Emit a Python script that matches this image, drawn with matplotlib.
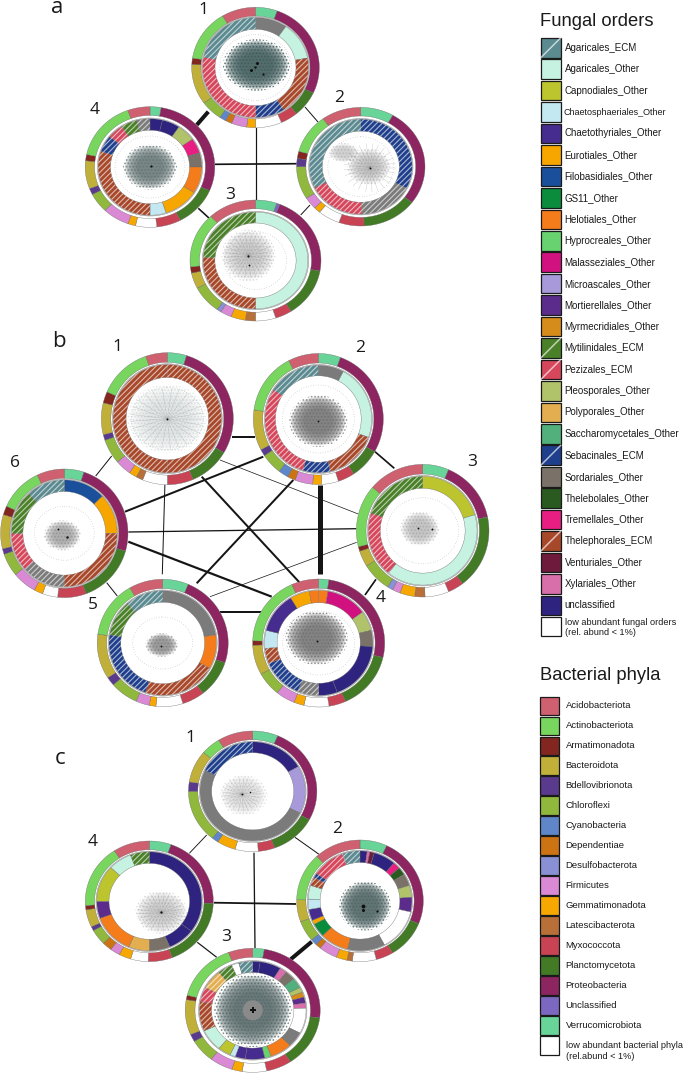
import numpy as np
import matplotlib
matplotlib.use('Agg')
import matplotlib.pyplot as plt
from matplotlib.patches import Polygon, Ellipse, Rectangle

# ---------- legend content ----------
FUNGAL_LABELS = ['Agaricales_ECM', 'Agaricales_Other', 'Capnodiales_Other', 'Chaetosphaeriales_Other',
                 'Chaetothyriales_Other', 'Eurotiales_Other', 'Filobasidiales_Other', 'GS11_Other',
                 'Helotiales_Other', 'Hyprocreales_Other', 'Malasseziales_Other', 'Microascales_Other',
                 'Mortierellales_Other', 'Myrmecridiales_Other', 'Mytilinidales_ECM', 'Pezizales_ECM',
                 'Pleosporales_Other', 'Polyporales_Other', 'Saccharomycetales_Other', 'Sebacinales_ECM',
                 'Sordariales_Other', 'Thelebolales_Other', 'Tremellales_Other', 'Thelephorales_ECM',
                 'Venturiales_Other', 'Xylariales_Other', 'unclassified']
FUNGAL_CODES = ['AgE', 'AgO', 'Cap', 'ChS', 'Chy', 'Eur', 'Fil', 'GS1', 'Hel', 'Hyp', 'Mal', 'Mic', 'Mor', 'Myr',
                'MyE', 'PeE', 'Ple', 'Pol', 'Sac', 'SeE', 'Sor', 'Thb', 'Tre', 'ThE', 'Ven', 'Xyl', 'Ucl']
FUNGAL_COLORS = ['#5b8a90', '#c6f2e1', '#bcc52d', '#c4e8f2', '#472c90', '#f7a600', '#1a4f9c', '#0b8c3c',
                 '#f57c1b', '#68d170', '#d0117f', '#a89ada', '#5c2c8c', '#d68c1a', '#4a8028', '#d6475c',
                 '#b0c26a', '#e3ae50', '#52b07c', '#1f3f8c', '#7a7268', '#2a5a20', '#e81e82', '#a8482a',
                 '#6e1a3c', '#d86eaa', '#2e2480']
BACTERIAL_LABELS = ['Acidobacteriota', 'Actinobacteriota', 'Armatimonadota', 'Bacteroidota', 'Bdellovibrionota',
                    'Chloroflexi', 'Cyanobacteria', 'Dependentiae', 'Desulfobacterota', 'Firmicutes',
                    'Gemmatimonadota', 'Latescibacterota', 'Myxococcota', 'Planctomycetota', 'Proteobacteria',
                    'Unclassified', 'Verrucomicrobiota']
BACTERIAL_COLORS = ['#cf6070', '#78d65e', '#82261f', '#c0b03a', '#5a3a8c', '#8fb83c', '#5f86c8', '#cc7414',
                    '#8a90d4', '#da8ad4', '#f7a800', '#b87038', '#c84454', '#437a26', '#8c2560', '#7c68c0',
                    '#68d498']
# clockwise from 12 o'clock: index into BACTERIAL_LABELS, -1 = low abundant (white)
OUTER_ORDER = [16, 15, 14, 13, 12, -1, 11, 10, 9, 8, 7, 6, 5, 4, 3, 2, 1, 0]

# ---------- outer ring shares (deg of circle, order of OUTER_ORDER) ----------
A1_OUTER = [20, 0, 95, 25, 16, 24, 0, 8, 14, 0, 6, 6, 20, 0, 39, 6, 50, 31]
A2_OUTER = [30, 0, 97, 50, 23, 20, 0, 6, 12, 0, 0, 0, 32, 8, 0, 7, 39, 36]
A3_OUTER = [19, 3, 78, 47, 15, 18, 9, 13, 10, 4, 0, 0, 27, 0, 15, 6, 53, 43]
A4_OUTER = [10, 0, 103, 39, 22, 19, 0, 7, 24, 0, 0, 0, 19, 6, 27, 6, 58, 20]
B1_OUTER = [17, 0, 104, 36, 23, 22, 6, 7, 14, 0, 0, 0, 22, 5, 28, 10, 47, 19]
B2_OUTER = [20, 0, 100, 27, 15, 15, 0, 8, 16, 0, 7, 9, 19, 6, 36, 0, 55, 27]
B3_OUTER = [23, 0, 55, 65, 14, 21, 9, 13, 7, 5, 0, 0, 26, 0, 14, 4, 55, 49]
B4_OUTER = [9, 0, 94, 53, 15, 22, 0, 9, 17, 0, 0, 0, 22, 0, 27, 4, 64, 24]
B5_OUTER = [23, 0, 85, 34, 20, 24, 0, 6, 12, 0, 0, 0, 25, 8, 41, 0, 52, 30]
B6_OUTER = [18, 0, 88, 54, 26, 14, 0, 8, 22, 0, 0, 0, 21, 5, 31, 8, 40, 25]
C1_OUTER = [23, 0, 95, 42, 15, 21, 0, 17, 0, 0, 0, 6, 51, 9, 31, 0, 18, 32]
C2_OUTER = [25, 0, 87, 37, 16, 22, 5, 10, 17, 0, 5, 6, 20, 0, 21, 0, 46, 43]
C3_OUTER = [10, 0, 87, 49, 22, 21, 0, 9, 20, 0, 0, 0, 22, 7, 33, 4, 55, 21]
C4_OUTER = [20, 0, 72, 67, 22, 16, 0, 11, 9, 0, 9, 0, 15, 4, 17, 4, 61, 33]

# ---------- inner ring taxa and shares (clockwise from 12 o'clock) ----------
A1_INNER_TAXA = ['Gry', 'AgO', 'ThE', 'SeE', 'PeE', 'AgE']
A1_INNER = [35, 44, 69, 32, 102, 78]
A2_INNER_TAXA = ['SeE', 'GrE', 'PeE', 'AgE']
A2_INNER = [117, 62, 65, 116]
A3_INNER_TAXA = ['AgO', 'ThE', 'MyE']
A3_INNER = [180, 94, 86]
A4_INNER_TAXA = ['Ucl', 'Ucl', 'Ple', 'Tre', 'Sor', 'Hel', 'Eur', 'ChS', 'ThE', 'SeE', 'PeE', 'MyE', 'GrE']
A4_INNER = [14, 20, 21, 18, 17, 32, 40, 18, 109, 20, 18, 18, 15]
B1_INNER_TAXA = ['ThE', 'ThE']
B1_INNER = [180, 180]
B2_INNER_TAXA = ['Gry', 'AgO', 'ThE', 'SeE', 'PeE', 'AgE']
B2_INNER = [28, 82, 57, 30, 106, 57]
B3_INNER_TAXA = ['Cap', 'AgO', 'PeE', 'MyE']
B3_INNER = [73, 146, 70, 71]
B4_INNER_TAXA = ['Hel', 'Mal', 'Ple', 'Sor', 'Ucl', 'Ucl', 'GrE', 'SeE', 'ThE', 'ChS', 'Chy', 'Eur', 'Hel']
B4_INNER = [10, 44, 22, 18, 66, 20, 23, 44, 17, 20, 45, 21, 10]
B5_INNER_TAXA = ['Gry', 'Hel', 'ThE', 'SeE', 'MyE', 'AgE']
B5_INNER = [81, 38, 80, 80, 40, 41]
B6_INNER_TAXA = ['Fil', 'Eur', 'ThE', 'GrE', 'PeE', 'MyE', 'AgE']
B6_INNER = [46, 44, 90, 48, 42, 48, 42]
C1_INNER_TAXA = ['Ucl', 'Mic', 'Gry', 'SeE']
C1_INNER = [60, 56, 179, 65]
C2_INNER_TAXA = ['Ucl', 'Xyl', 'Ven', 'Ucl', 'Tre', 'Thb', 'Sor', 'Ple', 'Mor', 'Low', 'Gry', 'Hel', 'GS1', 'Eur',
                 'Chy', 'ChS', 'AgO', 'ThE', 'SeE', 'PeE', 'Low', 'AgE']
C2_INNER = [8, 3, 5, 25, 8, 9, 14, 14, 17, 49, 42, 32, 16, 5, 13, 12, 16, 10, 5, 37, 1, 19]
C3_INNER_TAXA = ['Ucl', 'Ucl', 'Xyl', 'Sor', 'Sac', 'Ple', 'Myr', 'Mor', 'Xyl', 'Low', 'Gry', 'Hel', 'Hyp', 'Chy',
                 'Chy', 'ChS', 'Cap', 'AgO', 'ThE', 'PeE', 'PoE', 'MyE', 'Low', 'AgE']
C3_INNER = [8, 23, 8, 11, 12, 6, 6, 7, 6, 30, 18, 24, 7, 21, 11, 6, 14, 26, 35, 17, 23, 16, 8, 15]
C4_INNER_TAXA = ['Ucl', 'Ucl', 'Sor', 'Pol', 'Hel', 'Mor', 'Cap', 'AgO', 'MyE']
C4_INNER = [127, 30, 23, 23, 47, 20, 43, 26, 21]

# ---------- node layout: name, centre, radii, rings, inner-ring fractions ----------
NODES = {
    'a1': (255.5, 67.5, 63.8, 60.2, A1_OUTER, A1_INNER_TAXA, A1_INNER, .83, .635),
    'a2': (360.8, 166.7, 64.2, 59.3, A2_OUTER, A2_INNER_TAXA, A2_INNER, .80, .60),
    'a3': (255.5, 260.5, 65.5, 60.5, A3_OUTER, A3_INNER_TAXA, A3_INNER, .80, .62),
    'a4': (150.0, 167.0, 64.8, 60.3, A4_OUTER, A4_INNER_TAXA, A4_INNER, .80, .61),
    'b1': (167.3, 418.7, 66.0, 66.0, B1_OUTER, B1_INNER_TAXA, B1_INNER, .82, .625),
    'b2': (318.3, 419.0, 65.0, 65.5, B2_OUTER, B2_INNER_TAXA, B2_INNER, .82, .66),
    'b3': (422.7, 530.7, 66.3, 66.3, B3_OUTER, B3_INNER_TAXA, B3_INNER, .82, .64),
    'b4': (318.7, 643.0, 66.0, 64.0, B4_OUTER, B4_INNER_TAXA, B4_INNER, .82, .63),
    'b5': (162.7, 643.0, 65.5, 63.7, B5_OUTER, B5_INNER_TAXA, B5_INNER, .82, .64),
    'b6': (64.3, 533.3, 63.7, 64.3, B6_OUTER, B6_INNER_TAXA, B6_INNER, .83, .65),
    'c1': (252.7, 791.3, 64.2, 60.3, C1_OUTER, C1_INNER_TAXA, C1_INNER, .82, .64),
    'c2': (360.0, 900.8, 63.3, 60.8, C2_OUTER, C2_INNER_TAXA, C2_INNER, .82, .63),
    'c3': (252.7, 1010.3, 67.5, 62.0, C3_OUTER, C3_INNER_TAXA, C3_INNER, .79, .61),
    'c4': (149.3, 901.3, 64.0, 60.3, C4_OUTER, C4_INNER_TAXA, C4_INNER, .82, .63),
}

# network cloud sketch: node, dx, dy, rx, ry, colour, strength, dotted-ring rx, ry
CLOUDS = [
    ('a1', 1, -2.5, 31, 24, '#3f5a5a', 1.0, 36, 33),
    ('a2', 8, 0, 20, 17, '#8a8a8a', .3, 33, 30),
    ('a2', -17, -14, 14, 9, '#8a8a8a', .25, 0, 0),
    ('a3', -7, -5, 25, 24, '#8a8a8a', .28, 31, 29),
    ('a4', 0, 0, 25, 21, '#5f6f6f', .85, 35, 31),
    ('b1', 0, 0, 37, 32, '#8f9f9f', .16, 36, 31),
    ('b2', 0, 2, 27, 24, '#6c6c6c', .85, 36, 34),
    ('b3', -3, -2, 18, 16, '#8a8a8a', .35, 36, 33),
    ('b4', -2, -5, 29, 25, '#6c6c6c', .85, 36, 32),
    ('b5', -1, 2, 15, 11, '#777777', .65, 30, 26),
    ('b6', -2, 2, 17, 14, '#808080', .5, 30, 27),
    ('c1', -9, 4, 22, 19, '#9a9a9a', .18, 0, 0),
    ('c2', 5, 5, 24, 23, '#4f6464', 1.0, 0, 0),
    ('c3', 0, 0, 36, 34, '#566868', 1.0, 0, 0),
    ('c4', 12, 11, 24, 20, '#8a8a8a', .25, 0, 0),
]
# dark hub points of the networks: node, dx, dy, size
HUBS = [('a1', 2, -5, 2.0), ('a1', -4, 2, 2.0), ('a1', 8, 6, 1.5), ('a1', 0, -1, 1.6), ('a2', 9, 1, 1.2),
        ('a3', -7, -5, 1.4), ('a3', -6, 4, 1.2), ('a4', 1, -1, 1.5), ('b1', 0, 0, 1.2), ('b2', 0, 2, 1.2),
        ('b3', 9, -2, 1.3), ('b3', -5, -3, 1.2), ('b4', -2, -2, 1.3), ('b5', -2, 3, 1.2), ('b6', 3, 4, 1.6),
        ('b6', -6, -4, 1.2), ('c1', -11, 3, 1.2), ('c1', -3, 1, 1.0), ('c2', 3, 5, 2.6), ('c2', 3, 9, 2.0),
        ('c2', 17, 10, 1.5), ('c4', 12, 11, 1.5)]
C3_CORE = ('c3', 10, '#8a8a8a')
# hubs with visible fans of edges: node, dx, dy, reach x, reach y
FANS = [('b1', 0, 0, 36, 30), ('c1', -11, 3, 20, 17), ('c4', 12, 11, 24, 19), ('a2', 9, 1, 26, 24), ('a3', -7, -5, 24, 22)]
FAN_ANGLES = [0, 13, 28, 41, 57, 72, 85, 99, 116, 130, 144, 161, 175, 188, 203, 217, 233, 246, 262, 277, 289, 304, 320, 336, 349]

# network edges: x0, y0, x1, y1, weight
EDGES = [
    (305, 107, 318, 122, 1.0), (255.7, 127, 255.7, 200, 1.2), (208.3, 111.7, 196.7, 125, 4.0),
    (310, 205, 300.7, 215, 1.0), (215, 164.3, 297.3, 163.7, 1.7), (198.3, 208.3, 210, 219, 1.6),
    (231.7, 436.7, 255, 436.7, 2.0), (220, 460, 358.3, 514, .7), (201.7, 476.7, 300, 583, 2.0),
    (165, 481, 162.3, 574.3, 1.0), (111.7, 456, 95.7, 476, 1.0), (375, 451.7, 394.3, 468.3, 1.7),
    (320, 485, 320, 574, 5.0), (293.3, 480, 196.7, 583.3, 2.0), (263.3, 456.7, 125, 511.7, 2.0),
    (376, 579.3, 365, 595, 1.7), (356.7, 542.3, 210, 596.7, .7), (356.7, 528.7, 128.3, 532, 1.3),
    (220, 611.7, 261.7, 611.7, 2.0), (128.3, 541.7, 271.7, 596.7, 2.2), (106.7, 582.7, 117.3, 596, 1.0),
    (295, 837.3, 320, 855, 1.0), (254, 852.7, 255, 948.3, 1.3), (206.7, 835, 189.3, 853.3, .9),
    (311.7, 941.7, 290.7, 959.3, 4.0), (214, 902.7, 296, 904, 1.8), (197.3, 942.3, 216.7, 957.3, 1.2),
]

# panel letter, x, baseline y
PANEL_LETTERS = [('a', 57, 13), ('b', 59, 347), ('c', 60, 764)]
NODE_LABELS = [('1', 203, 9.5), ('2', 339.3, 98.5), ('3', 230, 195), ('4', 95, 110),
               ('1', 117.3, 346.7), ('6', 15, 463.3), ('5', 92.7, 605), ('2', 360, 348.3),
               ('3', 471.7, 461.7), ('4', 380.7, 597.7),
               ('1', 190, 738.3), ('2', 337.3, 829.3), ('3', 225.7, 936.7), ('4', 92.3, 842.3)]

# ---------- helpers ----------
plt.rcParams['hatch.linewidth'] = 0.8
FCOL = dict(zip(FUNGAL_CODES, FUNGAL_COLORS))
FCOL.update({'Gry': '#7b7b7b', 'GrE': '#7b7b7b', 'Low': '#ffffff', 'PoE': '#e3ae50'})
HATCHED = {'AgE', 'MyE', 'PeE', 'SeE', 'ThE', 'GrE', 'PoE'}

fig = plt.figure(figsize=(6.85, 10.73), dpi=100)
ax = fig.add_axes([0, 0, 1, 1])
ax.set_xlim(0, 685)
ax.set_ylim(1073, 0)
ax.axis('off')


def segment(cx, cy, rx, ry, f0, f1, a0, a1, color, hatched=False, z=4):
    n = max(int(abs(a1 - a0) / 2) + 2, 3)
    th = np.radians(np.linspace(a0, a1, n))
    xo = cx + rx * f1 * np.sin(th)
    yo = cy - ry * f1 * np.cos(th)
    xi = cx + rx * f0 * np.sin(th[::-1])
    yi = cy - ry * f0 * np.cos(th[::-1])
    pts = np.column_stack([np.r_[xo, xi], np.r_[yo, yi]])
    ax.add_patch(Polygon(pts, closed=True, facecolor=color, edgecolor='#666666', linewidth=.25, zorder=z))
    if hatched:
        ax.add_patch(Polygon(pts, closed=True, facecolor='none', edgecolor='#ffffff', linewidth=0,
                             hatch='//////', alpha=.62, zorder=z + .1))


def ring(cx, cy, rx, ry, f0, f1, shares, colors, hatches):
    total = float(sum(shares))
    a = 0.0
    for s, c, h in zip(shares, colors, hatches):
        if s <= 0:
            continue
        b = a + 360.0 * s / total
        segment(cx, cy, rx, ry, f0, f1, a, b, c, h)
        a = b


# edges go under the discs
for x0, y0, x1, y1, w in EDGES:
    ax.plot([x0, x1], [y0, y1], color='#151515', lw=w * .72, solid_capstyle='butt', zorder=1)

for name, (cx, cy, rx, ry, outer, taxa, inner, fa, fb) in NODES.items():
    ax.add_patch(Ellipse((cx, cy), 2 * rx, 2 * ry, facecolor='white', edgecolor='none', zorder=2))
    colors = [BACTERIAL_COLORS[i] if i >= 0 else '#ffffff' for i in OUTER_ORDER]
    ring(cx, cy, rx, ry, .855, 1.0, outer, colors, [False] * len(outer))
    ax.add_patch(Ellipse((cx, cy), 2 * rx * (fa + .012), 2 * ry * (fa + .012), facecolor='none',
                         edgecolor='#888888', linewidth=.4, zorder=4))
    ring(cx, cy, rx, ry, fb, fa, inner, [FCOL[t] for t in taxa], [t in HATCHED for t in taxa])

for node, dx, dy, reach_x, reach_y in FANS:
    cx, cy = NODES[node][:2]
    for ang in FAN_ANGLES:
        t = np.radians(ang)
        ax.plot([cx + dx, cx + dx + reach_x * np.cos(t)], [cy + dy, cy + dy + reach_y * np.sin(t)],
                color='#888888', lw=.25, alpha=.55, zorder=4.8)

for node, dx, dy, bx, by, col, st, rx_d, ry_d in CLOUDS:
    cx, cy = NODES[node][:2]
    for k in (1.0, .93, .85, .76, .66, .55):
        ax.add_patch(Ellipse((cx + dx, cy + dy), 2 * bx * k, 2 * by * k, facecolor=col, edgecolor='none',
                             alpha=.3 * st, zorder=5))
    ax.add_patch(Ellipse((cx + dx, cy + dy), 2 * bx * 1.08, 2 * by * 1.08, facecolor='none', edgecolor=col, linewidth=0,
                         hatch='.....', alpha=min(1, st * .7 + .1), zorder=5.2))
    if rx_d:
        ax.add_patch(Ellipse((cx, cy), 2 * rx_d, 2 * ry_d, facecolor='none', edgecolor='#666666',
                             linewidth=.5, linestyle=(0, (.6, 3.0)), alpha=.7, zorder=5.3))

cx, cy = NODES[C3_CORE[0]][:2]
ax.add_patch(Ellipse((cx, cy), 2 * C3_CORE[1], 2 * C3_CORE[1], facecolor=C3_CORE[2], edgecolor='none', zorder=5.4))
ax.scatter([cx], [cy], s=14, c='#111111', marker='P', linewidths=0, zorder=6)
for node, dx, dy, s in HUBS:
    cx, cy = NODES[node][:2]
    ax.scatter([cx + dx], [cy + dy], s=s ** 2 * 1.2, c='#111111', linewidths=0, zorder=6)

# text labels
for t, x, y in PANEL_LETTERS:
    ax.text(x, y, t, family='Open Sans', fontsize=16, color='#1a1a1a', ha='center', va='baseline', zorder=8)
for t, x, y in NODE_LABELS:
    ax.text(x, y, t, family='Open Sans', fontsize=12.5, color='#1a1a1a', ha='center', va='center', zorder=8)

# legends
LEG = dict(family='Liberation Sans', color='#1a1a1a', va='center', ha='left', zorder=8)
ax.text(540, 21.5, 'Fungal orders', fontsize=13.2, **LEG)
for i, (lab, col) in enumerate(zip(FUNGAL_LABELS, FUNGAL_COLORS)):
    y = 47.7 + i * 21.45
    ax.add_patch(Rectangle((541, y - 9.8), 19.6, 19.6, facecolor=col, edgecolor='#1a1a1a', linewidth=.9, zorder=6))
    if lab.endswith('_ECM'):
        ax.plot([541, 560.6], [y + 9.8, y - 9.8], color='white', alpha=.65, lw=1.1, zorder=7)
    small = lab == 'Chaetosphaeriales_Other'
    ax.text(564.5 if not small else 563.5, y, lab, fontsize=6.5 if small else 7.0, **LEG)
ax.add_patch(Rectangle((541, 616.7), 19.6, 19.6, facecolor='white', edgecolor='#1a1a1a', linewidth=.9, zorder=6))
ax.text(565.5, 627.5, 'low abundant fungal orders\n(rel. abund < 1%)', fontsize=6.6, linespacing=1.15, **LEG)

ax.text(540, 676, 'Bacterial phyla', fontsize=13.2, **LEG)
for i, (lab, col) in enumerate(zip(BACTERIAL_LABELS, BACTERIAL_COLORS)):
    y = 706 + i * 19.96
    ax.add_patch(Rectangle((540, y - 9.4), 19.3, 18.8, facecolor=col, edgecolor='#1a1a1a', linewidth=.9, zorder=6))
    ax.text(565.7, y, lab, fontsize=6.8, **LEG)
ax.add_patch(Rectangle((540, 1036), 19.3, 18.5, facecolor='white', edgecolor='#1a1a1a', linewidth=.9, zorder=6))
ax.text(565.7, 1051, 'low abundant bacterial phyla\n(rel.abund < 1%)', fontsize=6.6, linespacing=1.2, **LEG)

fig.savefig('out.png', dpi=100, facecolor='white')
